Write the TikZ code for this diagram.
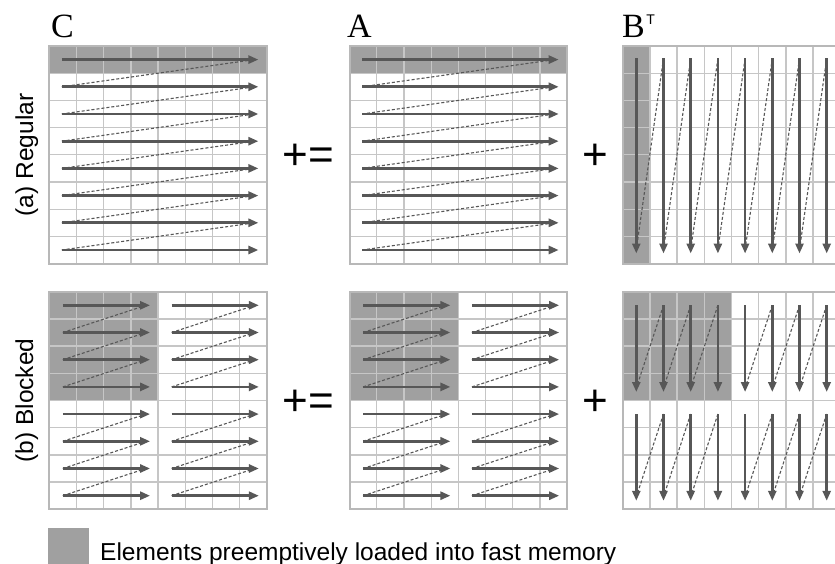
\documentclass[tikz,border=0pt]{standalone}
\usepackage{fontspec}
\newfontfamily\lsans{Liberation Sans}
\newfontfamily\lserif{Liberation Serif}
\usetikzlibrary{arrows.meta}
\definecolor{shade}{HTML}{A0A0A0}
\definecolor{gridc}{HTML}{C6C6C6}
\definecolor{bordc}{HTML}{B8B8B8}
\definecolor{arr}{HTML}{575757}
\tikzset{
  gridline/.style={draw=gridc, line width=1.3bp},
  gridborder/.style={draw=bordc, line width=2.2bp},
  flow/.style={draw=arr, line width=2.7bp, -{Triangle[length=10bp,width=8bp]}},
  back/.style={draw=arr, line width=1.1bp, dash pattern=on 3bp off 2bp},
  loaded/.style={fill=shade, draw=none},
  mlabel/.style={inner sep=0, font=\lserif\fontsize{34bp}{34bp}\selectfont},
  oplabel/.style={inner sep=0, font=\lsans\fontsize{44bp}{44bp}\selectfont},
  rowlabel/.style={inner sep=0, font=\lsans\fontsize{24.5bp}{24.5bp}\selectfont},
}
% grid of 8x8 cells, left top
\newcommand{\matgrid}[2]{%
  \foreach \i in {1,...,7} {
    \draw[gridline] ({#1+\i*27.2},{#2}) -- ({#1+\i*27.2},{#2+217.6});
    \draw[gridline] ({#1},{#2+\i*27.2}) -- ({#1+217.6},{#2+\i*27.2});
  }
  \draw[gridborder] ({#1},{#2}) rectangle ({#1+217.6},{#2+217.6});
}
% horizontal flows: x0 x1 ytop n
\newcommand{\hflow}[4]{%
  \foreach \i in {1,...,#4} {
    \draw[flow] ({#1},{#3+(\i-0.5)*27.2}) -- ({#2},{#3+(\i-0.5)*27.2});
  }
  \pgfmathtruncatemacro{\nm}{#4-1}
  \foreach \i in {1,...,\nm} {
    \draw[back] ({#1},{#3+(\i+0.5)*27.2}) -- ({#2-4},{#3+(\i-0.5)*27.2});
  }
}
% vertical flows: y0 y1 xleft n
\newcommand{\vflow}[4]{%
  \foreach \i in {1,...,#4} {
    \draw[flow] ({#3+(\i-0.5)*27.2},{#1}) -- ({#3+(\i-0.5)*27.2},{#2});
  }
  \pgfmathtruncatemacro{\nm}{#4-1}
  \foreach \i in {1,...,\nm} {
    \draw[back] ({#3+(\i+0.5)*27.2},{#1}) -- ({#3+(\i-0.5)*27.2},{#2-4});
  }
}
\begin{document}
\begin{tikzpicture}[x=1bp,y=-1bp]
\useasboundingbox (0,0) rectangle (835,564);
\clip (0,0) rectangle (835,564);
\fill[white] (0,0) rectangle (835,564);

% ---------- (a) Regular ----------
% C
\fill[loaded] (49.3,46) rectangle (266.9,73.2);
\matgrid{49.3}{46}
\hflow{61.8}{258.4}{46}{8}
% A
\fill[loaded] (349.6,46) rectangle (567.2,73.2);
\matgrid{349.6}{46}
\hflow{362.1}{558.7}{46}{8}
% B^T
\fill[loaded] (622.7,46) rectangle (649.9,263.6);
\matgrid{622.7}{46}
\vflow{58.5}{253.5}{622.7}{8}

% ---------- (b) Blocked ----------
% C
\fill[loaded] (49.3,291.7) rectangle (158.1,400.5);
\matgrid{49.3}{291.7}
\foreach \bx in {0,1} {
  \foreach \by in {0,1} {
    \hflow{49.3+\bx*108.8+13.5}{49.3+(\bx+1)*108.8-8}{291.7+\by*108.8}{4}
  }
}
% A
\fill[loaded] (349.6,291.7) rectangle (458.4,400.5);
\matgrid{349.6}{291.7}
\foreach \bx in {0,1} {
  \foreach \by in {0,1} {
    \hflow{349.6+\bx*108.8+13.5}{349.6+(\bx+1)*108.8-8}{291.7+\by*108.8}{4}
  }
}
% B^T
\fill[loaded] (622.7,291.7) rectangle (731.5,400.5);
\matgrid{622.7}{291.7}
\foreach \bx in {0,1} {
  \foreach \by in {0,1} {
    \vflow{291.7+\by*108.8+13.5}{291.7+(\by+1)*108.8-8.5}{622.7+\bx*108.8}{4}
  }
}

% ---------- labels ----------
\node[mlabel, anchor=base west] (labC) at (51,38) {C};
\node[mlabel, anchor=base west] (labA) at (347,38) {A};
\node[mlabel, anchor=base west] (labB) at (622,38) {B\kern1.5bp\raisebox{13bp}{\lsans\fontsize{14bp}{14bp}\selectfont T}};

\node[oplabel, anchor=base] (eqa) at (308.5,170) {+=};
\node[oplabel, anchor=base] (pla) at (595,170) {+};
\node[oplabel, anchor=base] (eqb) at (308.5,415.7) {+=};
\node[oplabel, anchor=base] (plb) at (595,415.7) {+};

\node[rowlabel, rotate=90, anchor=base] (rowa) at (33,155) {(a) Regular};
\node[rowlabel, rotate=90, anchor=base] (rowb) at (33,400.5) {(b) Blocked};

% legend
\node[loaded, minimum width=40.7bp, minimum height=42bp, inner sep=0, anchor=north west] (legbox) at (48.3,527.7) {};
\node[rowlabel, anchor=base west] (legtext) at (100,560.5) {Elements preemptively loaded into fast memory};
\end{tikzpicture}
\end{document}
